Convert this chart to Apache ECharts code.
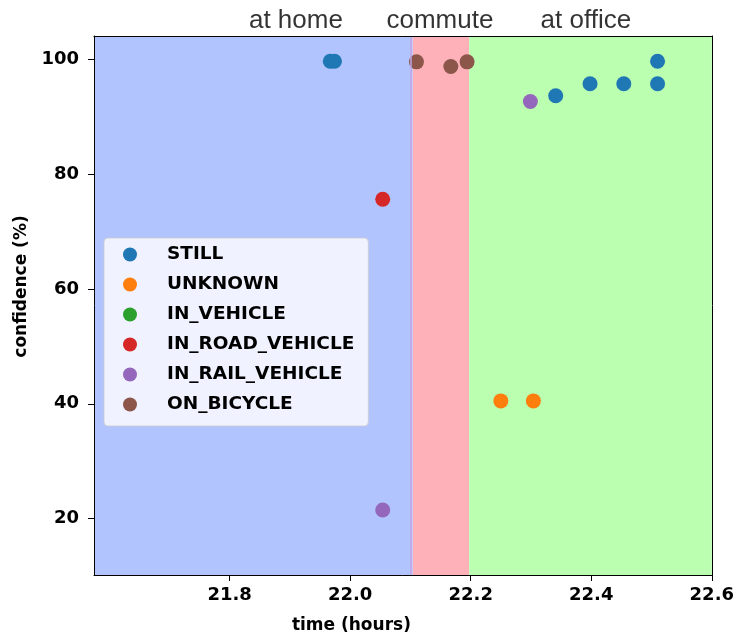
<!DOCTYPE html>
<html>
<head>
<meta charset="utf-8">
<script src="https://cdn.jsdelivr.net/npm/echarts@6/dist/echarts.min.js"></script>
<style>
  html, body { margin: 0; padding: 0; background: #fff; }
  #chart { width: 737px; height: 639px; }
</style>
</head>
<body>
<div id="chart"></div>
<script>
// activity samples: time (hours) and confidence (%) per activity type
const activityNames = ['STILL', 'UNKNOWN', 'IN_VEHICLE', 'IN_ROAD_VEHICLE', 'IN_RAIL_VEHICLE', 'ON_BICYCLE'];
const activityColors = ['#1f77b4', '#ff7f0e', '#2ca02c', '#d62728', '#9467bd', '#8c564b'];

const stillTime = [21.967, 21.974, 22.341, 22.398, 22.454, 22.510, 22.510];
const stillConf = [99.6, 99.6, 93.6, 95.7, 95.7, 95.7, 99.6];
const unknownTime = [22.250, 22.304];
const unknownConf = [40.5, 40.5];
const vehicleTime = [];
const vehicleConf = [];
const roadTime = [22.054];
const roadConf = [75.6];
const railTime = [22.054, 22.299];
const railConf = [21.5, 92.6];
const bicycleTime = [22.110, 22.167, 22.194];
const bicycleConf = [99.5, 98.7, 99.5];

const seriesTimes = [stillTime, unknownTime, vehicleTime, roadTime, railTime, bicycleTime];
const seriesConfs = [stillConf, unknownConf, vehicleConf, roadConf, railConf, bicycleConf];

// context periods (shaded spans)
const periodNames = ['at home', 'commute', 'at office'];
const periodStart = [21.575, 22.104, 22.1975];
const periodEnd = [22.104, 22.1975, 22.6];
const periodColors = ['#b2c4fe', '#ffb1ba', '#bbffb1'];
const periodLabelX = [21.910, 22.149, 22.391];

const xTicks = [21.8, 22.0, 22.2, 22.4, 22.6];
const yTicks = [20, 40, 60, 80, 100];
const xMin = 21.575, xMax = 22.6;
const yMin = 10.2, yMax = 104.0;

const tickFont = { fontFamily: 'DejaVu Sans', fontWeight: 'bold', fontSize: 18, color: '#000' };

function frameAxis(extra) {
  return Object.assign({
    type: 'value',
    z: 5,
    axisLine: { show: true, lineStyle: { color: '#000', width: 1 } },
    axisTick: { show: false },
    axisLabel: { show: false },
    splitLine: { show: false }
  }, extra);
}

const chart = echarts.init(document.getElementById('chart'));

const scatterSeries = activityNames.map((name, i) => ({
  name: name,
  type: 'scatter',
  symbolSize: 15,
  itemStyle: { color: activityColors[i], opacity: 1 },
  data: seriesTimes[i].map((t, j) => [t, seriesConfs[i][j]]),
  z: 3
}));

const option = {
  animation: false,
  grid: { left: 94, right: 24, top: 36, bottom: 62 },
  xAxis: [
    frameAxis({
      position: 'bottom',
      min: xMin, max: xMax,
      axisTick: { show: true, length: 6, lineStyle: { color: '#000' }, customValues: xTicks },
      axisLabel: Object.assign({ show: true, margin: 11, customValues: xTicks,
        formatter: v => v.toFixed(1) }, tickFont),
      name: 'time (hours)',
      nameLocation: 'middle',
      nameGap: 42,
      nameTextStyle: { fontFamily: 'DejaVu Sans', fontWeight: 'bold', fontSize: 17, color: '#000',
        padding: [0, 103, 0, 0] }
    }),
    frameAxis({ position: 'top', min: xMin, max: xMax })
  ],
  yAxis: [
    frameAxis({
      position: 'left',
      min: yMin, max: yMax,
      axisTick: { show: true, length: 6, lineStyle: { color: '#000' }, customValues: yTicks },
      axisLabel: Object.assign({ show: true, margin: 15, customValues: yTicks }, tickFont),
      name: 'confidence (%)',
      nameLocation: 'middle',
      nameGap: 60,
      nameTextStyle: { fontFamily: 'DejaVu Sans', fontWeight: 'bold', fontSize: 17, color: '#000',
        padding: [0, 0, 0, 38] }
    }),
    frameAxis({ position: 'right', min: yMin, max: yMax })
  ],
  legend: {
    data: activityNames,
    orient: 'vertical',
    left: 104,
    top: 238,
    icon: 'circle',
    itemWidth: 14,
    itemHeight: 14,
    itemGap: 11,
    selectedMode: false,
    padding: [7, 14, 12, 19],
    backgroundColor: 'rgba(255,255,255,0.8)',
    borderColor: 'rgba(204,204,204,0.8)',
    borderWidth: 1,
    borderRadius: 4,
    textStyle: { fontFamily: 'DejaVu Sans', fontWeight: 'bold', fontSize: 18.5, color: '#000',
      lineHeight: 14, padding: [0, 0, 0, 25] }
  },
  series: [
    {
      // shaded periods
      name: 'periods',
      type: 'scatter',
      data: [],
      z: 1,
      markArea: {
        silent: true,
        data: periodNames.map((p, i) => [
          { xAxis: periodStart[i], itemStyle: { color: periodColors[i], opacity: 1 } },
          { xAxis: periodEnd[i] }
        ])
      },
      markLine: {
        silent: true,
        symbol: 'none',
        label: { show: false },
        lineStyle: { color: '#c0a6e6', width: 1.5, type: 'solid' },
        data: [{ xAxis: periodEnd[0] }]
      }
    },
    {
      // period captions above the plot
      name: 'periodLabels',
      type: 'scatter',
      symbolSize: 0,
      clip: false,
      silent: true,
      data: periodNames.map((p, i) => ({ value: [periodLabelX[i], yMax], name: p })),
      label: {
        show: true,
        position: 'top',
        distance: 2,
        formatter: '{b}',
        fontFamily: 'Liberation Sans',
        fontSize: 26,
        color: '#000'
      }
    }
  ].concat(scatterSeries)
};

chart.setOption(option);
</script>
</body>
</html>
